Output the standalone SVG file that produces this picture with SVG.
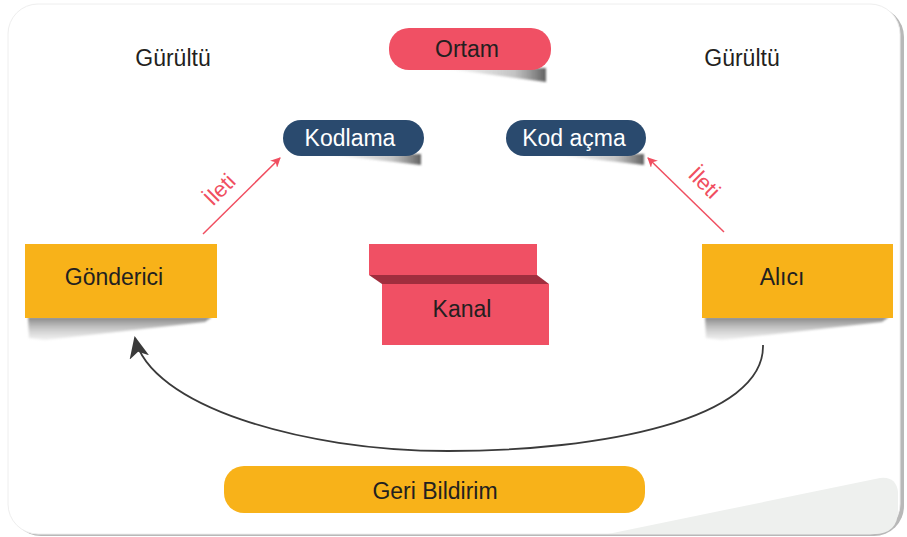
<svg xmlns="http://www.w3.org/2000/svg" width="907" height="537" viewBox="0 0 907 537">
<defs>
<style>
.t{font-family:"Liberation Sans",Arial,sans-serif;font-size:23px;fill:#231f20;text-anchor:middle}
.tw{font-family:"Liberation Sans",Arial,sans-serif;font-size:23px;fill:#ffffff;text-anchor:middle}
.tr{font-family:"Liberation Sans",Arial,sans-serif;font-size:22px;fill:#f04e60;text-anchor:middle}
.box{fill:#f8b219}
.red{fill:#f05064}
.blue{fill:#2a4a6e}
.arr{stroke:#f04e60;stroke-width:1.5;fill:none}
.fb{stroke:#3a3a3a;stroke-width:1.8;fill:none}
.sh{filter:url(#blur)}
</style>
<filter id="blur" x="-10%" y="-50%" width="120%" height="200%">
<feGaussianBlur stdDeviation="1.2"/>
</filter>
<linearGradient id="shV" x1="0" y1="0" x2="0" y2="1">
<stop offset="0" stop-color="#777" stop-opacity="0.9"/>
<stop offset="1" stop-color="#ccc" stop-opacity="0.3"/>
</linearGradient>
<linearGradient id="shH" x1="0" y1="0" x2="1" y2="0">
<stop offset="0" stop-color="#999" stop-opacity="0"/>
<stop offset="0.7" stop-color="#888" stop-opacity="0.5"/>
<stop offset="1" stop-color="#444" stop-opacity="0.85"/>
</linearGradient>
<marker id="ar" markerWidth="10" markerHeight="10" refX="9" refY="5" orient="auto" markerUnits="userSpaceOnUse">
<path d="M0,0 L10,5 L0,10 L3,5 Z" fill="#f04e60"/>
</marker>
<marker id="ak" markerWidth="22" markerHeight="20" refX="20" refY="10" orient="auto" markerUnits="userSpaceOnUse">
<path d="M0,0 L22,10 L0,20 L6,10 Z" fill="#3a3a3a"/>
</marker>
</defs>
<rect x="0" y="0" width="907" height="537" fill="#ffffff"/>
<g id="frame">
<rect x="11" y="7" width="893" height="529" rx="30" fill="#b8b8b8"/>
<rect x="8" y="4" width="892" height="530" rx="30" fill="#ffffff" stroke="#eeeeee" stroke-width="1"/>
<path d="M608,534 L880,478 Q896,476 898,492 L898,510 Q898,534 874,534 Z" fill="#eef0ee"/>
</g>
<g id="gurultu-sol"><text class="t" x="173" y="66">Gürültü</text></g>
<g id="gurultu-sag"><text class="t" x="742" y="66">Gürültü</text></g>
<g id="ortam">
<path class="sh" d="M440,68 L546,68 L546,82 Z" fill="url(#shH)"/>
<rect x="389" y="28" width="162" height="42" rx="20" class="red"/>
<text class="t" x="467" y="57">Ortam</text>
</g>
<g id="kodlama">
<path class="sh" d="M323,154 L421,154 L421,165 Z" fill="url(#shH)"/>
<rect x="283" y="120" width="141" height="36" rx="18" class="blue"/>
<text class="tw" x="350" y="146">Kodlama</text>
</g>
<g id="kodacma">
<path class="sh" d="M548,154 L644,154 L644,165 Z" fill="url(#shH)"/>
<rect x="506" y="120" width="140" height="36" rx="18" class="blue"/>
<text class="tw" x="574" y="146">Kod açma</text>
</g>
<g id="gonderici">
<path class="sh" d="M28,317 L212,317 L205,322 L45,340 L29,338 Z" fill="url(#shV)"/>
<rect x="25" y="244" width="192" height="74" class="box"/>
<text class="t" x="114" y="285">Gönderici</text>
</g>
<g id="alici">
<path class="sh" d="M705,317 L889,317 L882,322 L722,340 L706,338 Z" fill="url(#shV)"/>
<rect x="702" y="244" width="191" height="74" class="box"/>
<text class="t" x="782" y="285">Alıcı</text>
</g>
<g id="kanal">
<rect x="369" y="244" width="168" height="31" class="red"/>
<path d="M369,275 L537,275 L549,284 L382,284 Z" fill="#a02e3e"/>
<rect x="382" y="284" width="167" height="61" class="red"/>
<text class="t" x="462" y="317">Kanal</text>
</g>
<g id="geribildirim">
<rect x="224" y="466" width="421" height="47" rx="20" class="box"/>
<text class="t" x="435" y="499">Geri Bildirim</text>
</g>
<g id="connectors">
<line x1="203" y1="234" x2="280" y2="158" class="arr" marker-end="url(#ar)"/>
<line x1="724" y1="232" x2="648" y2="158" class="arr" marker-end="url(#ar)"/>
<path d="M763,345 C765,420 600,451 448,451 C300,451 150,405 135,338" class="fb" marker-end="url(#ak)"/>
<text class="tr" transform="translate(220,190) rotate(-45)" y="7">İleti</text>
<text class="tr" transform="translate(704,183) rotate(45)" y="7">İleti</text>
</g>
</svg>
